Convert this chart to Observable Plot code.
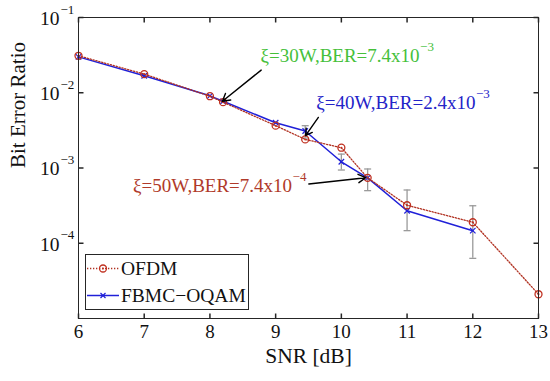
<!DOCTYPE html>
<html>
<head>
<meta charset="utf-8">
<script src="https://cdn.jsdelivr.net/npm/d3@7"></script>
<script src="https://cdn.jsdelivr.net/npm/@observablehq/plot@0.6"></script>
<style>
  html, body { margin: 0; padding: 0; background: #fff; }
  #wrap { position: relative; width: 550px; height: 381px; font-family: "Liberation Serif", serif; }
  #legend { position: absolute; left: 85px; top: 254px; width: 162px; height: 54px; border: 1px solid #262626; background: #fff; }
  .row { display: flex; align-items: center; height: 27px; }
  .row span { font-size: 19.5px; color: #111; margin-left: 1px; }
</style>
</head>
<body>
<div id="wrap">
  <div id="chart"></div>
  <div id="legend">
    <div class="row">
      <svg width="34" height="27"><line x1="1" y1="13.5" x2="33" y2="13.5" stroke="#b03020" stroke-width="1.3" stroke-dasharray="1.3,1.7"/><circle cx="17" cy="13.5" r="3.5" fill="none" stroke="#c03020" stroke-width="1.3"/><circle cx="17" cy="13.5" r="1" fill="#c03020"/></svg>
      <span>OFDM</span>
    </div>
    <div class="row">
      <svg width="34" height="27"><line x1="1" y1="13.5" x2="33" y2="13.5" stroke="#2020d8" stroke-width="1.5"/><path d="M14.5,11L19.5,16M14.5,16L19.5,11" stroke="#2020d8" stroke-width="1.2"/></svg>
      <span>FBMC−OQAM</span>
    </div>
  </div>
</div>
<script>
// ---- data ----
const snrOFDM = [6, 7, 8, 8.2, 9, 9.45, 10, 10.4, 11, 12, 13];
const berOFDM = [0.031, 0.0177, 0.009, 0.0075, 0.00365, 0.0024, 0.00186, 0.00074, 0.00032, 0.00019, 0.000021];
const snrFBMC = [6, 7, 8, 8.2, 9, 9.45, 10, 10.4, 11, 12];
const berFBMC = [0.030, 0.0168, 0.0091, 0.0077, 0.0040, 0.0031, 0.00121, 0.00074, 0.00027, 0.000147];
const errSNR = [9.45, 10, 10.4, 11, 12];
const errLow = [0.0025, 0.00094, 0.0005, 0.000147, 0.000063];
const errHigh = [0.00365, 0.00153, 0.00097, 0.00051, 0.000315];
const xTicks = [6, 7, 8, 9, 10, 11, 12, 13];
const yExponents = [-1, -2, -3, -4];
const annText = ["ξ=30W,BER=7.4x10", "ξ=40W,BER=2.4x10", "ξ=50W,BER=7.4x10"];
const annExp = ["−3", "−3", "−4"];
const annX = [11.19, 12.04, 9.25];
const annY = [0.031, 0.0074, 0.00058];
const annColor = ["#45c03a", "#2323c8", "#b03a2a"];
const arrX1 = [8.78, 9.65, 9.505];
const arrY1 = [0.020, 0.0047, 0.000613];
const arrX2 = [8.19, 9.455, 10.37];
const arrY2 = [0.0077, 0.0027, 0.000743];

const ofdm = snrOFDM.map((x, i) => ({x, y: berOFDM[i]}));
const fbmc = snrFBMC.map((x, i) => ({x, y: berFBMC[i]}));
const errs = errSNR.map((x, i) => ({x, lo: errLow[i], hi: errHigh[i]}));
const yTicks = yExponents.map(e => 10 ** e);
const ann = annText.map((t, i) => ({t, e: annExp[i], x: annX[i], y: annY[i], c: annColor[i]}));
const arrows = arrX1.map((x1, i) => ({x1, y1: arrY1[i], x2: arrX2[i], y2: arrY2[i]}));

// custom symbols
const sym = (dx1, dy1, dx2, dy2) => ({draw(ctx) { ctx.moveTo(dx1, dy1); ctx.lineTo(dx2, dy2); }});
const tickRightSym = sym(0, 0, 5, 0);
const tickLeftSym = sym(0, 0, -5, 0);
const tickUpSym = sym(0, 0, 0, -5);
const tickDownSym = sym(0, 0, 0, 5);
const capSym = sym(-3.5, 0, 3.5, 0);

const AX = "#262626";
const chart = Plot.plot({
  width: 550,
  height: 381,
  marginLeft: 78,
  marginRight: 12,
  marginTop: 17,
  marginBottom: 63,
  style: {fontFamily: "Liberation Serif, serif", fontSize: "18px", background: "#fff", color: "#111"},
  x: {domain: [6, 13], axis: null},
  y: {type: "log", domain: [1e-5, 1e-1], axis: null},
  marks: [
    // error bars
    Plot.ruleX(errs, {x: "x", y1: "lo", y2: "hi", stroke: "#9a9a9a", strokeWidth: 1.3}),
    Plot.dot(errs, {x: "x", y: "lo", symbol: capSym, stroke: "#9a9a9a", fill: "none", strokeWidth: 1.3}),
    Plot.dot(errs, {x: "x", y: "hi", symbol: capSym, stroke: "#9a9a9a", fill: "none", strokeWidth: 1.3}),
    // FBMC
    Plot.line(fbmc, {x: "x", y: "y", stroke: "#2020d8", strokeWidth: 1.5}),
    Plot.dot(fbmc, {x: "x", y: "y", symbol: "times", r: 2.6, stroke: "#2020d8", strokeWidth: 1.2}),
    // OFDM
    Plot.line(ofdm, {x: "x", y: "y", stroke: "#b03020", strokeWidth: 1.3, strokeDasharray: "1.3,1.7"}),
    Plot.dot(ofdm, {x: "x", y: "y", r: 3.5, stroke: "#c03020", fill: "none", strokeWidth: 1.3}),
    Plot.dot(ofdm, {x: "x", y: "y", r: 1, fill: "#c03020"}),
    // frame & ticks
    Plot.frame({stroke: AX, strokeWidth: 1}),
    Plot.dot(yTicks, {y: d => d, frameAnchor: "left", symbol: tickRightSym, stroke: AX, fill: "none"}),
    Plot.dot(yTicks, {y: d => d, frameAnchor: "right", symbol: tickLeftSym, stroke: AX, fill: "none"}),
    Plot.dot(xTicks, {x: d => d, frameAnchor: "bottom", symbol: tickUpSym, stroke: AX, fill: "none"}),
    Plot.dot(xTicks, {x: d => d, frameAnchor: "top", symbol: tickDownSym, stroke: AX, fill: "none"}),
    // tick labels
    Plot.text(xTicks, {x: d => d, frameAnchor: "bottom", dy: 19, text: d => String(d), fontSize: 19, fill: "#111"}),
    Plot.text(yTicks, {y: d => d, frameAnchor: "left", dx: -19, dy: 1, textAnchor: "end", text: () => "10", fontSize: 19.5, fill: "#111"}),
    Plot.text(yExponents, {y: d => 10 ** d, frameAnchor: "left", dx: -18, dy: -8, textAnchor: "start", text: d => "−" + (-d), fontSize: 13, fill: "#111"}),
    // axis labels
    Plot.text(["SNR [dB]"], {frameAnchor: "bottom", dy: 44, text: d => d, fontSize: 21.5, fill: "#111"}),
    Plot.text(["Bit Error Ratio"], {frameAnchor: "left", dx: -60, rotate: -90, text: d => d, fontSize: 21, fill: "#111"}),
    // annotations
    Plot.arrow(arrows, {x1: "x1", y1: "y1", x2: "x2", y2: "y2", stroke: "#000", strokeWidth: 1.4, headLength: 9, bend: 0}),
    Plot.text(ann, {x: "x", y: "y", text: "t", fill: "c", textAnchor: "end", fontSize: 19}),
    Plot.text(ann, {x: "x", y: "y", text: "e", fill: "c", textAnchor: "start", dy: -9, dx: 0.5, fontSize: 13})
  ]
});
document.getElementById("chart").appendChild(chart);
</script>
</body>
</html>
